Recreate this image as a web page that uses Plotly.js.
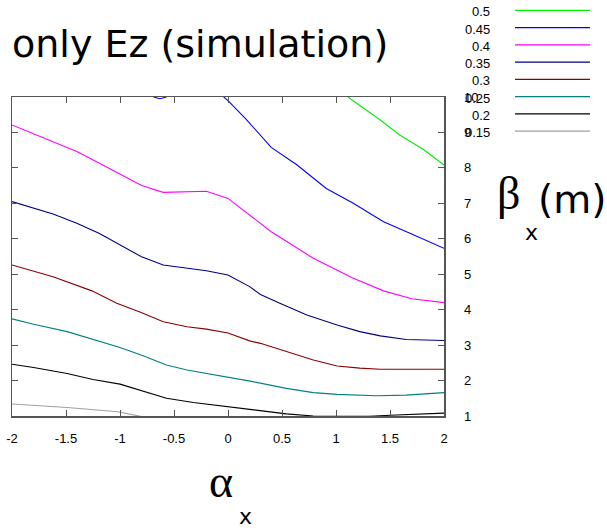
<!DOCTYPE html>
<html>
<head>
<meta charset="utf-8">
<script src="https://cdn.plot.ly/plotly-3.0.1.min.js"></script>
<style>html,body{margin:0;padding:0;background:#fff;}#chart{width:607px;height:531px;}</style>
</head>
<body>
<div id="chart"></div>
<script>
// ---- data ----
const levels = [0.5, 0.45, 0.4, 0.35, 0.3, 0.25, 0.2, 0.15];
const levelLabels = ["0.5", "0.45", "0.4", "0.35", "0.3", "0.25", "0.2", "0.15"];
const levelColors = ["#00ee00", "#0000ff", "#ff00ff", "#000080", "#8b0000", "#008080", "#000000", "#a0a0a0"];

const c050x = [1.11, 1.41, 1.59, 1.81, 2.0];
const c050y = [10.0, 9.35, 8.93, 8.52, 8.08];

const c045x = [-0.69, -0.63, -0.57, null, -0.04, 0.0, 0.16, 0.40, 0.64, 0.91, 1.16, 1.44, 1.69, 2.0];
const c045y = [10.0, 9.95, 10.0, null, 10.0, 9.9, 9.40, 8.58, 8.08, 7.42, 7.00, 6.48, 6.15, 5.73];

const c040x = [-2.0, -1.62, -1.40, -1.19, -0.80, -0.60, -0.20, 0.0, 0.20, 0.40, 0.79, 1.15, 1.44, 1.70, 2.0];
const c040y = [9.21, 8.74, 8.46, 8.13, 7.50, 7.31, 7.34, 7.14, 6.67, 6.20, 5.45, 4.90, 4.53, 4.31, 4.20];

const c035x = [-2.0, -1.62, -1.40, -1.19, -0.80, -0.60, -0.20, 0.0, 0.20, 0.30, 0.48, 0.73, 1.01, 1.22, 1.41, 1.65, 2.0];
const c035y = [7.05, 6.70, 6.44, 6.15, 5.49, 5.26, 5.10, 4.98, 4.65, 4.43, 4.18, 3.85, 3.57, 3.38, 3.26, 3.16, 3.13];

const c030x = [-2.0, -1.62, -1.26, -1.03, -0.81, -0.60, -0.38, -0.20, 0.0, 0.20, 0.30, 0.54, 0.79, 1.01, 1.22, 1.41, 2.0];
const c030y = [5.26, 4.93, 4.53, 4.18, 3.93, 3.66, 3.52, 3.45, 3.34, 3.12, 3.05, 2.82, 2.58, 2.41, 2.35, 2.32, 2.32];

const c025x = [-2.0, -1.80, -1.49, -1.22, -1.0, -0.78, -0.57, -0.38, -0.20, 0.0, 0.23, 0.54, 0.79, 1.01, 1.38, 1.65, 2.0];
const c025y = [3.74, 3.59, 3.38, 3.14, 2.93, 2.69, 2.44, 2.30, 2.20, 2.11, 1.97, 1.78, 1.66, 1.61, 1.57, 1.59, 1.66];

const c020x = [-2.0, -1.80, -1.49, -1.25, -1.0, -0.78, -0.57, -0.32, 0.0, 0.23, 0.54, 0.79, 1.0, 1.31, 1.5, 1.78, 2.0];
const c020y = [2.46, 2.37, 2.20, 2.03, 1.90, 1.69, 1.50, 1.38, 1.26, 1.17, 1.06, 1.0, 0.99, 0.99, 1.02, 1.06, 1.08];

const c015x = [-2.0, -1.49, -1.02, -0.81];
const c015y = [1.34, 1.24, 1.12, 0.99];

const xTickVals = [-2, -1.5, -1, -0.5, 0, 0.5, 1, 1.5, 2];
const xTickText = ["-2", "-1.5", "-1", "-0.5", "0", "0.5", "1", "1.5", "2"];
const yTickVals = [1, 2, 3, 4, 5, 6, 7, 8, 9, 10];
const yTickText = ["1", "2", "3", "4", "5", "6", "7", "8", "9", "10"];

const titleText = "only Ez (simulation)";

// ---- layout helpers (pixel -> paper) ----
const W = 607, H = 531, ML = 12, MR = 163, MT = 97, MB = 115;
const PW = W - ML - MR, PH = H - MT - MB;
const px2x = px => (px - ML) / PW;
const py2y = py => (H - MB - py) / PH;

const series = [[c050x, c050y], [c045x, c045y], [c040x, c040y], [c035x, c035y],
                [c030x, c030y], [c025x, c025y], [c020x, c020y], [c015x, c015y]];

const traces = series.map((s, i) => ({
  type: 'scatter', mode: 'lines', x: s[0], y: s[1], name: levelLabels[i],
  line: {color: levelColors[i], width: 1.1}, showlegend: false, hoverinfo: 'skip'
}));

const annotations = [];
const shapes = [];
levels.forEach((lv, i) => {
  const ly = 10.3 + i * 17.25;
  shapes.push({type: 'line', xref: 'paper', yref: 'paper',
    x0: px2x(515), x1: px2x(590), y0: py2y(ly), y1: py2y(ly),
    line: {color: levelColors[i], width: 1.3}});
  annotations.push({xref: 'paper', yref: 'paper', x: px2x(492), y: py2y(ly + 1.5),
    xanchor: 'right', yanchor: 'middle', text: levelLabels[i], showarrow: false,
    font: {family: 'Liberation Sans, Arial, sans-serif', size: 13, color: '#000'}});
});

// axis labels and title
const serif = 'Liberation Serif, Times New Roman, serif';
const sans = 'DejaVu Sans, Noto Sans, sans-serif';
annotations.push({xref: 'paper', yref: 'paper', x: px2x(508), y: py2y(193), text: 'β',
  showarrow: false, xanchor: 'center', yanchor: 'middle', font: {family: serif, size: 46, color: '#000'}});
annotations.push({xref: 'paper', yref: 'paper', x: px2x(531), y: py2y(232), text: 'x',
  showarrow: false, xanchor: 'center', yanchor: 'middle', font: {family: sans, size: 22, color: '#000'}});
annotations.push({xref: 'paper', yref: 'paper', x: px2x(572), y: py2y(199), text: '(m)',
  showarrow: false, xanchor: 'center', yanchor: 'middle', font: {family: sans, size: 39, color: '#000'}});
annotations.push({xref: 'paper', yref: 'paper', x: px2x(221), y: py2y(481), text: 'α',
  showarrow: false, xanchor: 'center', yanchor: 'middle', font: {family: serif, size: 46, color: '#000'}});
annotations.push({xref: 'paper', yref: 'paper', x: px2x(246), y: py2y(531), text: 'x',
  showarrow: false, xanchor: 'center', yanchor: 'bottom', font: {family: sans, size: 22, color: '#000'}});
annotations.push({xref: 'paper', yref: 'paper', x: px2x(10), y: py2y(44), text: titleText,
  showarrow: false, xanchor: 'left', yanchor: 'middle', font: {family: sans, size: 38, color: '#000'}});

const axisCommon = {
  showgrid: false, zeroline: false, showline: true, linecolor: '#555', linewidth: 1.5,
  mirror: 'ticks', ticks: 'inside', ticklen: 6, tickcolor: '#555', tickwidth: 1,
  tickfont: {family: 'Liberation Sans, Arial, sans-serif', size: 13, color: '#000'},
  fixedrange: true
};

const layout = {
  width: W, height: H,
  margin: {l: ML, r: MR, t: MT, b: MB, pad: 0},
  paper_bgcolor: '#fff', plot_bgcolor: '#fff',
  showlegend: false,
  xaxis: Object.assign({}, axisCommon, {range: [-2, 2], tickmode: 'array', tickvals: xTickVals, ticktext: xTickText, ticklabelstandoff: 10}),
  yaxis: Object.assign({}, axisCommon, {range: [1, 10], side: 'right', tickmode: 'array', tickvals: yTickVals, ticktext: yTickText, ticklabelstandoff: 16}),
  annotations: annotations,
  shapes: shapes
};

Plotly.newPlot('chart', traces, layout, {displayModeBar: false, staticPlot: true});
</script>
</body>
</html>
